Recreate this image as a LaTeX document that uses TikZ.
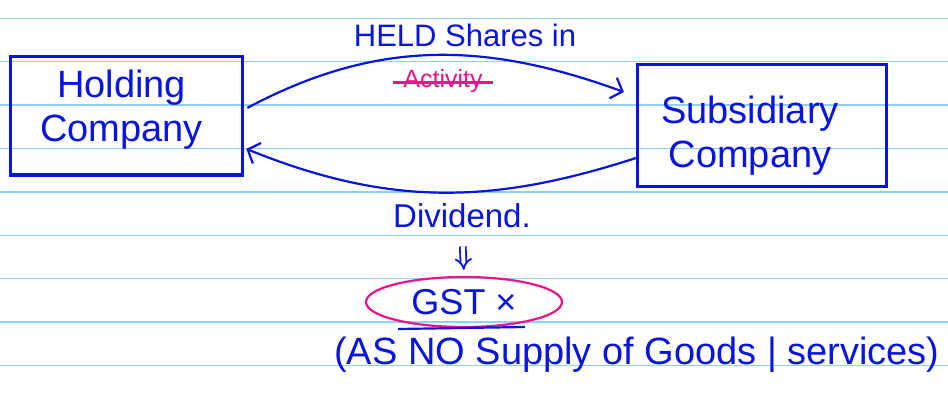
\documentclass[tikz,border=0pt]{standalone}
\usepackage{fontspec}
\setmainfont{Liberation Sans}
\usetikzlibrary{arrows.meta,shapes.geometric}
\definecolor{inkblue}{RGB}{10,20,225}
\definecolor{inkpink}{RGB}{232,20,140}
\definecolor{rulecol}{RGB}{140,210,250}
\begin{document}
\begin{tikzpicture}[x=1pt,y=-1pt,
  box/.style={draw=inkblue, line width=3.2pt, inner sep=0pt},
  boxtext/.style={text=inkblue, font=\fontsize{38}{44}\selectfont, align=center, inner sep=0pt},
  lbl/.style={text=inkblue, inner sep=0pt, anchor=base},
  conn/.style={draw=inkblue, line width=2.2pt, -{Straight Barb[length=10pt,width=22pt,line width=2.2pt]}},
  ruleline/.style={draw=rulecol, line width=1.4pt}
]
\useasboundingbox (0,0) rectangle (948,396);
\fill[white] (0,0) rectangle (948,396);
\foreach \y in {18.3,61.7,105,148.4,191.8,235.2,278.6,322,365.4}
  \draw[ruleline] (0,\y) -- (948,\y);

% boxes
\node[box, minimum width=232pt, minimum height=118pt] (hold) at (126.7,115.9) {};
\node[boxtext] (holdtxt) at ([xshift=-5pt,yshift=6pt]hold.center) {Holding\\Company};
\node[box, minimum width=249pt, minimum height=122pt] (sub) at (762,125.5) {};
\node[boxtext] (subtxt) at ([xshift=-12pt,yshift=-10pt]sub.center) {Subsidiary\\Company};

% labels
\node[lbl, font=\fontsize{31}{37}\selectfont] (held) at (465,47) {HELD Shares in};
\node[lbl, text=inkpink, font=\fontsize{25}{30}\selectfont] (act) at (443,88) {Activity};
\draw[inkpink, line width=2.2pt] ([xshift=-10pt,yshift=-1pt]act.west) -- ([xshift=10pt,yshift=-1pt]act.east);

% connectors
\draw[conn] ([xshift=3pt,yshift=8pt]hold.east) to[out=28,in=160] ([xshift=-12pt,yshift=33.5pt]sub.west);
\draw[conn] ([yshift=-32.5pt]sub.west) to[out=198,in=-22] ([xshift=2pt,yshift=-33pt]hold.east);

\node[lbl, font=\fontsize{33}{40}\selectfont] (div) at (462,227) {Dividend.};
\node[draw=inkpink, line width=2.2pt, ellipse, minimum width=196pt, minimum height=50pt, text=inkblue, font=\fontsize{36}{42}\selectfont] (gst) at (464,302) {GST ×};
\draw[inkblue, line width=1.8pt, double distance=4pt, -{Implies[scale=1.8]}, shorten <=19pt, shorten >=6pt] (div.south) -- (gst.north);

\node[lbl, font=\fontsize{38}{45}\selectfont] (note) at (637,364) {(AS NO Supply of Goods | services)};
\draw[inkblue, line width=2.2pt] (398,329) -- (525,327);
\end{tikzpicture}
\end{document}
